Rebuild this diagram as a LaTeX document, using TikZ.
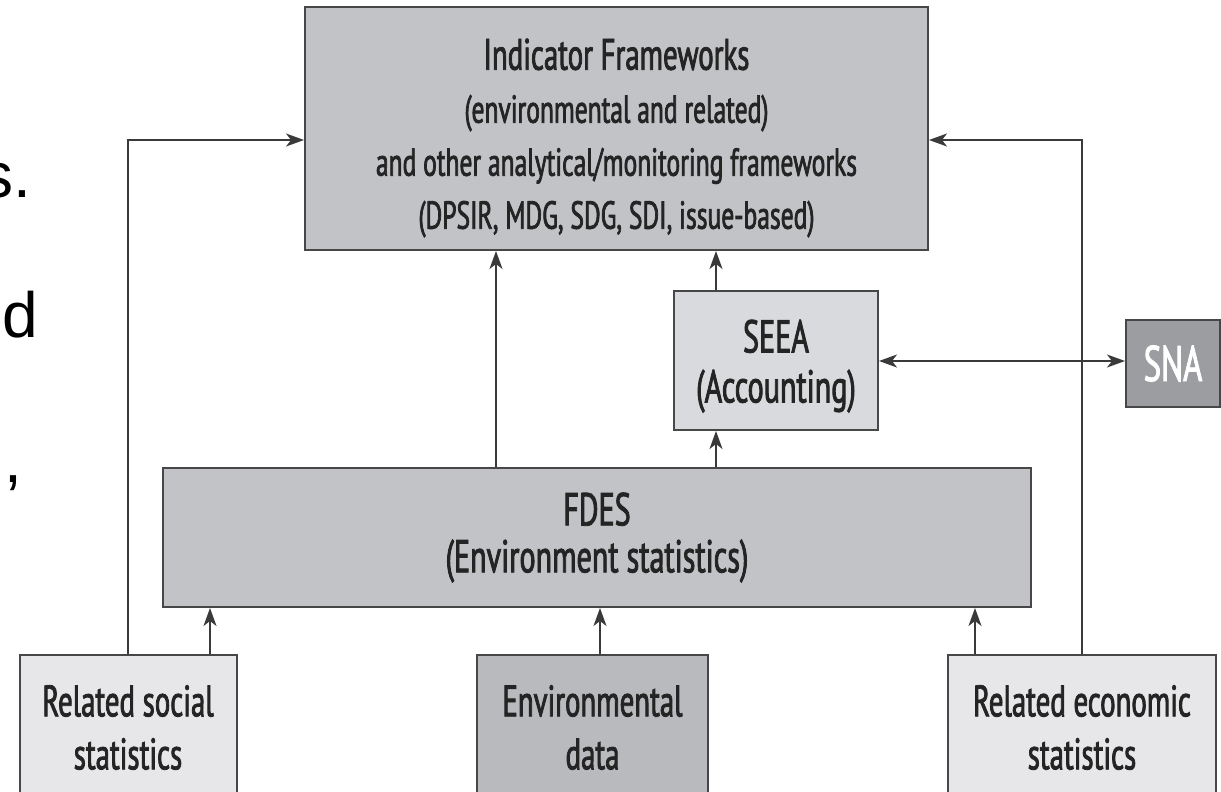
\documentclass[tikz,border=0pt]{standalone}
\usepackage{fontspec}
\usepackage{tikz}
\usetikzlibrary{arrows.meta}
\newfontfamily\boxfont[FakeStretch=0.655, FakeBold=1.8]{PT Sans}
\newfontfamily\slidefont{Liberation Sans}
\definecolor{boxline}{HTML}{474747}
\definecolor{connline}{HTML}{3A3A3A}
\definecolor{boxtext}{HTML}{242424}
\definecolor{indgray}{HTML}{C2C3C7}
\definecolor{seeagray}{HTML}{D9DADD}
\definecolor{snagray}{HTML}{9C9DA1}
\definecolor{envgray}{HTML}{B9BABE}
\definecolor{sidegray}{HTML}{E7E7E9}

\begin{document}
\begin{tikzpicture}[x=1pt, y=-1pt,
  box/.style={draw=boxline, line width=2pt, text=boxtext, align=center, inner sep=0pt},
  conn/.style={draw=connline, line width=1.5pt, -{Stealth[length=18pt, width=13pt, inset=5pt]}},
  frag/.style={font=\slidefont\fontsize{64}{64}\selectfont, inner sep=0pt}]
\useasboundingbox (0,0) rectangle (1221,792);
\node[frag, anchor=base east] (fragS) at (31,197) {s.};
\node[frag, anchor=base west] (fragD) at (2,337) {d};
\node[frag, anchor=base east] (fragP) at (22,482) {),};
\node[box, fill=indgray, minimum width=623pt, minimum height=243pt, font=\boxfont\fontsize{39}{53}\selectfont] (ind) at (616.5,128.5) {{\fontsize{44}{53}\selectfont\rule{0pt}{50pt}Indicator Frameworks}\\(environmental and related)\\and other analytical/monitoring frameworks\\(DPSIR, MDG, SDG, SDI, issue-based)};
\node[box, fill=seeagray, minimum width=204pt, minimum height=139pt, font=\boxfont\fontsize{46}{50}\selectfont] (seea) at (776,360.5) {\rule{0pt}{44pt}SEEA\\(Accounting)};
\node[box, fill=snagray, text=white, minimum width=94pt, minimum height=87pt, font=\boxfont\fontsize{50}{50}\selectfont] (sna) at (1173,363.5) {SNA};
\node[box, fill=indgray, minimum width=868pt, minimum height=139pt, font=\boxfont\fontsize{46}{47}\selectfont] (fdes) at (597,537.5) {FDES\\(Environment statistics)};
\node[box, fill=sidegray, minimum width=217pt, minimum height=145pt, font=\boxfont\fontsize{44}{53}\selectfont] (soc) at (128,727.5) {Related social\\statistics};
\node[box, fill=envgray, minimum width=231pt, minimum height=145pt, font=\boxfont\fontsize{44}{53}\selectfont] (env) at (592.5,727.5) {Environmental\\data};
\node[box, fill=sidegray, minimum width=268pt, minimum height=145pt, font=\boxfont\fontsize{44}{53}\selectfont] (econ) at (1082,727.5) {Related economic\\statistics};
\draw[conn] (soc.north) |- (ind.west |- 0,140);
\draw[conn] (econ.north) |- (ind.east |- 0,140);
\foreach \n/\x in {soc/210, env/600, econ/975}
  \draw[conn] (\n.north -| \x,0) -- (fdes.south -| \x,0);
\draw[conn] (fdes.north -| 496,0) -- (ind.south -| 496,0);
\draw[conn] (fdes.north -| 716,0) -- (seea.south -| 716,0);
\draw[conn] (seea.north -| 716,0) -- (ind.south -| 716,0);
\draw[conn, {Stealth[length=18pt, width=13pt, inset=5pt]}-{Stealth[length=18pt, width=13pt, inset=5pt]}] (seea.east |- 0,361) -- (sna.west |- 0,361);
\end{tikzpicture}
\end{document}
